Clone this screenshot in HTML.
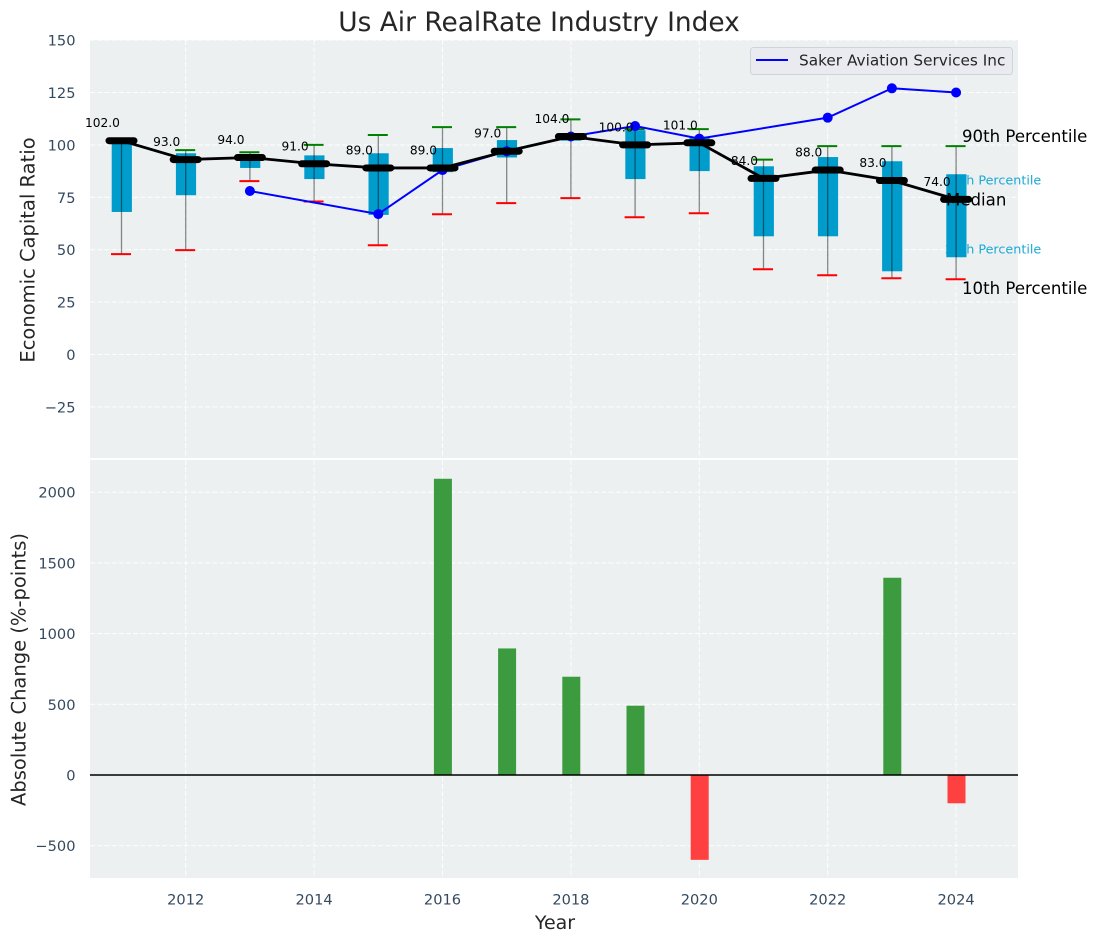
<!DOCTYPE html>
<html lang="en">
<head>
<meta charset="utf-8">
<title>Us Air RealRate Industry Index</title>
<style>
html,body{margin:0;padding:0;background:#fff;width:1097px;height:942px;overflow:hidden}
svg{display:block;font-family:"DejaVu Sans","Liberation Sans",sans-serif}
</style>
</head>
<body>
<svg id="chart" width="1097" height="942" viewBox="0 0 1097 942" xmlns="http://www.w3.org/2000/svg">
  <rect x="0" y="0" width="1097" height="942" fill="#ffffff"/>
  <text x="539" y="31" font-size="26.4" fill="#262626" text-anchor="middle">Us Air RealRate Industry Index</text>
  <rect x="90" y="40" width="928" height="418" fill="#ecf0f1"/>
  <rect x="90" y="460" width="928" height="418" fill="#ecf0f1"/>
  <g id="grid"></g>
  <g id="top-under">
    <text x="945" y="184.5" font-size="12.75" fill="#1ba9d6">75th Percentile</text>
    <text x="945" y="253.5" font-size="12.75" fill="#1ba9d6">25th Percentile</text>
  </g>
  <g id="boxes"></g>
  <text x="946" y="205.5" font-size="16.6" fill="#000000">Median</text>
  <g id="marks"></g>
  <g id="ticks"></g>
  <text x="962" y="142" font-size="16.6" fill="#000000">90th Percentile</text>
  <text x="962" y="294" font-size="16.6" fill="#000000">10th Percentile</text>
  <text transform="translate(34.5 250) rotate(-90)" font-size="19.5" fill="#262626" text-anchor="middle">Economic Capital Ratio</text>
  <text transform="translate(25.5 669.5) rotate(-90)" font-size="19.5" fill="#262626" text-anchor="middle">Absolute Change (%-points)</text>
  <text x="555" y="929" font-size="19" fill="#262626" text-anchor="middle">Year</text>
  <g>
    <rect x="750.5" y="47.5" width="262" height="27" rx="3" fill="#e9ebf0" stroke="#d0d3d8" stroke-width="1"/>
    <line x1="756" y1="60" x2="788" y2="60" stroke="#0000ff" stroke-width="2"/>
    <text x="799" y="65.5" font-size="15.3" fill="#262626">Saker Aviation Services Inc</text>
  </g>
</svg>
<script>
const years = [2011,2012,2013,2014,2015,2016,2017,2018,2019,2020,2021,2022,2023,2024];
const median = [102,93,94,91,89,89,97,104,100,101,84,88,83,74];
const p90 = [102.5,97.5,96.5,100,104.7,108.5,108.5,112.2,107.5,107.5,93,99.4,99.4,99.4];
const p75 = [102,96,94.5,95,96,98.5,102.3,105,107,104,89.8,94.2,92.2,86];
const p25 = [68,76,89,83.7,66.6,87,94,102,83.7,87.5,56.4,56.4,39.7,46.4];
const p10 = [47.9,49.8,82.7,73,52.1,66.9,72.2,74.6,65.5,67.4,40.7,37.8,36.4,35.9];
const companyYears = [2013,2015,2016,2017,2018,2019,2020,2022,2023,2024];
const companyValues = [78,67,88,97,104,109,103,113,127,125];
const changeYears = [2016,2017,2018,2019,2020,2023,2024];
const changeValues = [2095,895,695,490,-600,1395,-200];
const xTicks = [2012,2014,2016,2018,2020,2022,2024];
const topYTicks = [150,125,100,75,50,25,0,-25];
const bottomYTicks = [2000,1500,1000,500,0,-500];

const SVGNS = 'http://www.w3.org/2000/svg';
function xAxis(y){ return 185.7 + (y - 2012) * 64.2; }
function yTop(v){ return 354.5 - v * 2.096; }
function yBottom(v){ return 775 - v * 0.1414; }
function make(tag, attrs, parent){
  const n = document.createElementNS(SVGNS, tag);
  for (const k in attrs) n.setAttribute(k, attrs[k]);
  parent.appendChild(n);
  return n;
}
const gridG = document.getElementById('grid');
const boxesG = document.getElementById('boxes');
const marksG = document.getElementById('marks');
const ticksG = document.getElementById('ticks');
const gridStyle = {stroke:'#ffffff','stroke-width':1.1,'stroke-dasharray':'5 2.2','stroke-opacity':0.85};

xTicks.forEach(function(t){
  const a = make('line', Object.assign({x1:xAxis(t),x2:xAxis(t),y1:40,y2:458}, gridStyle), gridG);
  
  
  const b = make('line', Object.assign({x1:xAxis(t),x2:xAxis(t),y1:460,y2:878}, gridStyle), gridG);
  
  
  const l = make('text', {x:xAxis(t),y:904.5,'font-size':14.6,fill:'#34495e','text-anchor':'middle'}, ticksG);
  
  
  l.textContent = t;
});
topYTicks.forEach(function(t){
  const a = make('line', Object.assign({x1:90,x2:1018,y1:yTop(t),y2:yTop(t)}, gridStyle), gridG);
  
  
  const l = make('text', {x:75.5,y:yTop(t)+5.5,'font-size':14.6,fill:'#34495e','text-anchor':'end'}, ticksG);
  
  
  l.textContent = String(t).replace('-', '\u2212');
});
bottomYTicks.forEach(function(t){
  const a = make('line', Object.assign({x1:90,x2:1018,y1:yBottom(t),y2:yBottom(t)}, gridStyle), gridG);
  
  
  const l = make('text', {x:75.5,y:yBottom(t)+5.5,'font-size':14.6,fill:'#34495e','text-anchor':'end'}, ticksG);
  
  
  l.textContent = String(t).replace('-', '\u2212');
});

years.forEach(function(y, i){
  const x = xAxis(y);
  const box = make('rect', {x:x-9.8,y:yTop(p75[i]),width:20.2,height:yTop(p25[i])-yTop(p75[i]),fill:'#009ccc'}, boxesG);
  
  
  const w = make('line', {x1:x,x2:x,y1:yTop(p10[i]),y2:yTop(p90[i]),stroke:'#000000','stroke-opacity':0.45,'stroke-width':1.3}, boxesG);
  
  
  const c1 = make('line', {x1:x-10.5,x2:x+9.5,y1:yTop(p90[i]),y2:yTop(p90[i]),stroke:'#008000','stroke-width':2}, boxesG);
  
  
  const c2 = make('line', {x1:x-10.5,x2:x+9.5,y1:yTop(p10[i]),y2:yTop(p10[i]),stroke:'#ff0000','stroke-width':2}, boxesG);
  
  
});

const companyLine = make('polyline', {points:companyYears.map(function(y,i){return xAxis(y)+','+yTop(companyValues[i]);}).join(' '),fill:'none',stroke:'#0000ff','stroke-width':2}, marksG);


companyYears.forEach(function(y, i){
  const p = make('circle', {cx:xAxis(y),cy:yTop(companyValues[i]),r:5,fill:'#0000ff'}, marksG);
  
  
});

const medianLine = make('polyline', {points:years.map(function(y,i){return xAxis(y)+','+yTop(median[i]);}).join(' '),fill:'none',stroke:'#000000','stroke-width':2.8}, marksG);


years.forEach(function(y, i){
  const x = xAxis(y);
  const m = make('line', {x1:x-12.5,x2:x+12.5,y1:yTop(median[i]),y2:yTop(median[i]),stroke:'#000000','stroke-width':7,'stroke-linecap':'round'}, marksG);
  
  
  const t = make('text', {x:x-19,y:yTop(median[i])-13.5,'font-size':12.2,fill:'#000000','text-anchor':'middle'}, marksG);
  
  
  t.textContent = median[i].toFixed(1);
});

changeYears.forEach(function(y, i){
  const v = changeValues[i];
  const top = Math.min(yBottom(v), yBottom(0));
  const b = make('rect', {x:xAxis(y)-8.6,y:top,width:18,height:Math.abs(yBottom(v)-yBottom(0)),fill:v >= 0 ? '#3b9b3e' : '#ff4040'}, marksG);
  
  
});
const zero = make('line', {x1:90,x2:1018,y1:yBottom(0),y2:yBottom(0),stroke:'#000000','stroke-width':1.4}, marksG);


</script>
</body>
</html>
